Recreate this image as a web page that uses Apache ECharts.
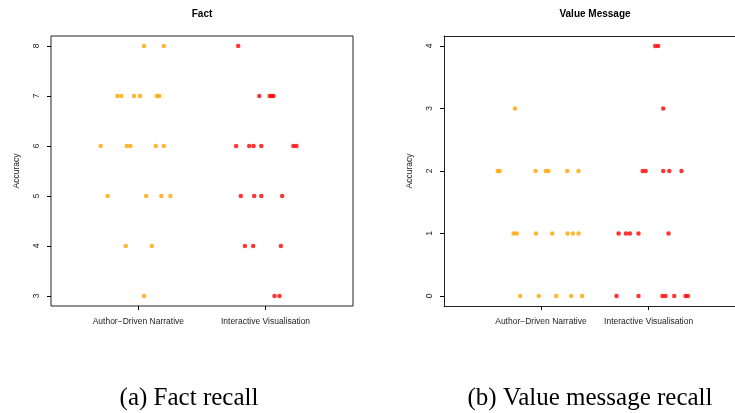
<!DOCTYPE html>
<html>
<head>
<meta charset="utf-8">
<script src="https://cdn.jsdelivr.net/npm/echarts@6/dist/echarts.min.js"></script>
<style>html,body{margin:0;padding:0;background:#fff;}#c{width:735px;height:413px;}</style>
</head>
<body>
<div id="c"></div>
<script>
// Category labels and tick labels
const categories = ['Author\u2212Driven Narrative', 'Interactive Visualisation'];
const factTicks = [3, 4, 5, 6, 7, 8];
const valueTicks = [0, 1, 2, 3, 4];

// Fact recall: Author-Driven Narrative (jittered position, accuracy)
const factAuthorX = [1.045, 1.200, 0.835, 0.866, 0.966, 1.013, 1.145, 1.165, 0.704, 0.909, 0.937, 1.137, 1.200, 0.759, 1.061, 1.181, 1.252, 0.901, 1.106, 1.045];
const factAuthorY = [8, 8, 7, 7, 7, 7, 7, 7, 6, 6, 6, 6, 6, 5, 5, 5, 5, 4, 4, 3];
// Fact recall: Interactive Visualisation
const factInterX = [1.785, 1.951, 2.033, 2.049, 2.063, 1.769, 1.872, 1.906, 1.967, 2.219, 2.243, 1.806, 1.911, 1.967, 2.131, 1.838, 1.903, 2.121, 2.071, 2.110];
const factInterY = [8, 7, 7, 7, 7, 6, 6, 6, 6, 6, 6, 5, 5, 5, 5, 4, 4, 4, 3, 3];

// Value message recall: Author-Driven Narrative
const valueAuthorX = [0.759, 0.599, 0.617, 0.950, 1.045, 1.070, 1.244, 1.349, 0.746, 0.775, 0.954, 1.105, 1.247, 1.297, 1.349, 0.808, 0.981, 1.142, 1.281, 1.383];
const valueAuthorY = [3, 2, 2, 2, 2, 2, 2, 2, 1, 1, 1, 1, 1, 1, 1, 0, 0, 0, 0, 0];
// Value message recall: Interactive Visualisation
const valueInterX = [2.061, 2.089, 2.136, 1.945, 1.973, 2.136, 2.192, 2.305, 1.721, 1.789, 1.826, 1.906, 2.185, 1.702, 1.906, 2.128, 2.157, 2.238, 2.343, 2.365];
const valueInterY = [4, 4, 3, 2, 2, 2, 2, 2, 1, 1, 1, 1, 1, 0, 0, 0, 0, 0, 0, 0];

const pairs = (xs, ys) => xs.map((x, i) => [x, ys[i]]);
const FONT = '"Liberation Sans", Arial, Helvetica, sans-serif';
const LINE = {color: '#222', width: 1};

function xAxisDef(gi, min, max, showLine) {
  return {
    gridIndex: gi, type: 'value', min: min, max: max, position: 'bottom',
    axisLine: {show: showLine, onZero: false, lineStyle: LINE},
    splitLine: {show: false},
    axisTick: {show: true, length: 4, customValues: [1, 2], lineStyle: {color: '#000', width: 1}},
    axisLabel: {customValues: [1, 2], margin: 11, fontSize: 8.5, fontFamily: FONT, color: '#222',
      formatter: v => categories[Math.round(v) - 1] || ''}
  };
}
function yAxisDef(gi, min, max, ticks, showLine) {
  return {
    gridIndex: gi, type: 'value', min: min, max: max, position: 'left',
    name: 'Accuracy', nameLocation: 'middle', nameGap: 30,
    nameTextStyle: {fontSize: 8.5, fontFamily: FONT, color: '#222'},
    axisLine: {show: showLine, onZero: false, lineStyle: LINE},
    splitLine: {show: false},
    axisTick: {show: true, length: 4, customValues: ticks, lineStyle: {color: '#000', width: 1}},
    axisLabel: {customValues: ticks, rotate: 90, margin: 10, fontSize: 8.5, fontFamily: FONT, color: '#222'}
  };
}

const chart = echarts.init(document.getElementById('c'), null, {renderer: 'canvas'});
chart.setOption({
  animation: false,
  backgroundColor: '#fff',
  title: [
    {text: 'Fact', left: 202, top: 9, padding: 0, textAlign: 'center',
     textStyle: {fontSize: 10, fontWeight: 'bold', fontFamily: FONT, color: '#000'}},
    {text: 'Value Message', left: 595, top: 9, padding: 0, textAlign: 'center',
     textStyle: {fontSize: 10, fontWeight: 'bold', fontFamily: FONT, color: '#000'}}
  ],
  grid: [
    {left: 51, top: 36, width: 302, height: 270, show: true, borderColor: '#222', borderWidth: 1, backgroundColor: 'transparent'},
    {left: 444, top: 36, width: 291, height: 270, show: false}
  ],
  xAxis: [
    xAxisDef(0, 0.313, 2.688, false),
    xAxisDef(1, 0.1, 2.802, true),
    {gridIndex: 1, type: 'value', min: 0.1, max: 2.802, position: 'top',
     axisLine: {show: true, onZero: false, lineStyle: LINE}, axisTick: {show: false},
     axisLabel: {show: false}, splitLine: {show: false}}
  ],
  yAxis: [yAxisDef(0, 2.8, 8.2, factTicks, false), yAxisDef(1, -0.16, 4.16, valueTicks, true)],
  series: [
    {type: 'scatter', xAxisIndex: 0, yAxisIndex: 0, symbolSize: 4.5, itemStyle: {color: '#FFA500'}, data: pairs(factAuthorX, factAuthorY)},
    {type: 'scatter', xAxisIndex: 0, yAxisIndex: 0, symbolSize: 4.5, itemStyle: {color: '#FF0000'}, data: pairs(factInterX, factInterY)},
    {type: 'scatter', xAxisIndex: 1, yAxisIndex: 1, symbolSize: 4.5, itemStyle: {color: '#FFA500'}, data: pairs(valueAuthorX, valueAuthorY)},
    {type: 'scatter', xAxisIndex: 1, yAxisIndex: 1, symbolSize: 4.5, itemStyle: {color: '#FF0000'}, data: pairs(valueInterX, valueInterY)}
  ],
  graphic: [
    {type: 'text', x: 189, y: 398, style: {text: '(a) Fact recall', font: '25px "Liberation Serif", "DejaVu Serif", serif', textAlign: 'center', textVerticalAlign: 'middle', fill: '#000'}},
    {type: 'text', x: 590, y: 398, style: {text: '(b) Value message recall', font: '25px "Liberation Serif", "DejaVu Serif", serif', textAlign: 'center', textVerticalAlign: 'middle', fill: '#000'}}
  ]
});
</script>
</body>
</html>
